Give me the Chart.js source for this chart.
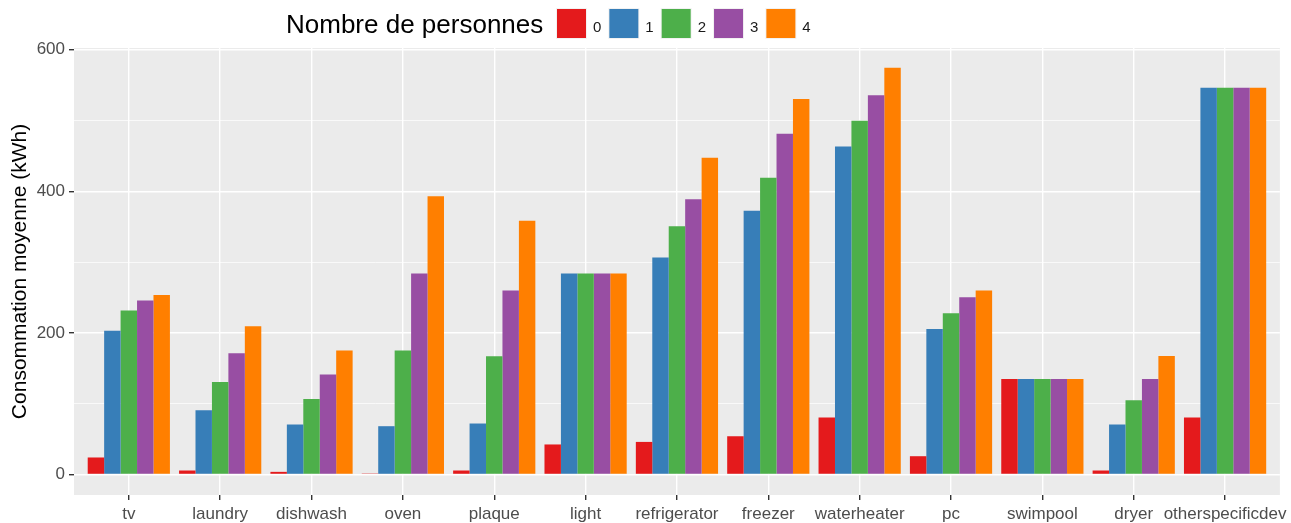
<!DOCTYPE html>
<html><head><meta charset="utf-8">
<script src="https://cdn.jsdelivr.net/npm/chart.js@4/dist/chart.umd.min.js"></script>
<style>html,body{margin:0;padding:0;background:#fff;overflow:hidden}</style>
</head><body>
<canvas id="c" width="1291" height="523"></canvas>
<script>
const categories = ['tv','laundry','dishwash','oven','plaque','light','refrigerator','freezer','waterheater','pc','swimpool','dryer','otherspecificdev'];
const seriesNames = ['0','1','2','3','4'];
const persons0 = [24, 5.6, 3.7, 1.4, 5.6, 42.4, 46, 54, 80.5, 25.8, 135, 5.6, 80.5];
const persons1 = [203, 90.8, 70.6, 68.2, 72, 283.8, 306.4, 372.7, 463.5, 205.6, 135, 70.6, 546.4];
const persons2 = [231.5, 130.7, 106.7, 175, 167, 283.8, 350.6, 419.3, 499.8, 227.7, 135, 104.9, 546.4];
const persons3 = [245.7, 171.3, 141.2, 283.8, 259.8, 283.8, 388.7, 481.4, 535.9, 250.3, 135, 135, 546.4];
const persons4 = [253.6, 209.4, 175, 393, 358.6, 283.8, 447.5, 530.3, 574.6, 259.8, 135, 167.3, 546.4];
const yTicks = [0, 200, 400, 600];
const legendTitle = 'Nombre de personnes';
const yTitle = 'Consommation moyenne (kWh)';

const colors = ['#E41A1C','#377EB8','#4DAF4A','#984EA3','#FF7F00'];
const FONT = '"Liberation Sans", Arial, sans-serif';
const seriesValues = [persons0, persons1, persons2, persons3, persons4];

const panelBg = {
  id: 'panelBg',
  beforeDraw(chart) {
    const a = chart.chartArea, ctx = chart.ctx;
    ctx.save();
    ctx.fillStyle = '#EBEBEB';
    ctx.fillRect(a.left, a.top, a.right - a.left, a.bottom - a.top);
    ctx.restore();
  }
};

const ggLegend = {
  id: 'ggLegend',
  afterDraw(chart) {
    const ctx = chart.ctx;
    ctx.save();
    ctx.textBaseline = 'alphabetic';
    ctx.textAlign = 'left';
    ctx.font = '26px ' + FONT;
    ctx.fillStyle = '#000';
    ctx.fillText(legendTitle, 286, 33);
    let x = 557;
    ctx.font = '15px ' + FONT;
    chart.data.datasets.forEach(ds => {
      ctx.fillStyle = '#F2F2F2';
      ctx.fillRect(x - 1, 8, 31, 31);
      ctx.fillStyle = ds.backgroundColor;
      ctx.fillRect(x, 9, 29, 29);
      x += 29 + 7;
      ctx.fillStyle = '#1A1A1A';
      ctx.fillText(ds.label, x, 32);
      x += ctx.measureText(ds.label).width + 8;
    });
    ctx.restore();
  }
};

const isMajor = v => yTicks.includes(v);

new Chart(document.getElementById('c'), {
  type: 'bar',
  data: {
    labels: categories.map((_, i) => i),
    datasets: seriesNames.map((n, i) => ({
      label: n,
      data: seriesValues[i],
      backgroundColor: colors[i],
      borderWidth: 0,
      categoryPercentage: 0.9,
      barPercentage: 1.0
    }))
  },
  options: {
    responsive: false,
    animation: false,
    layout: { padding: { top: 48, right: 11, left: 0, bottom: 0 } },
    plugins: { legend: { display: false }, tooltip: { enabled: false } },
    scales: {
      x: {
        type: 'linear',
        min: -0.6, max: 12.6,
        offset: false,
        border: { display: false },
        grid: { color: '#FFFFFF', lineWidth: 1.4, offset: false, tickLength: 5, tickColor: '#333333', drawOnChartArea: true },
        ticks: {
          stepSize: 1, includeBounds: false, autoSkip: false, maxRotation: 0,
          padding: 4, color: '#4D4D4D', font: { family: FONT, size: 17 },
          callback: v => categories[v] ?? ''
        },
        afterFit: s => { s.height = 28; }
      },
      y: {
        type: 'linear',
        min: -29, max: 602.5,
        border: { display: false },
        grid: {
          color: '#FFFFFF',
          lineWidth: c => (c.tick && isMajor(c.tick.value)) ? 1.4 : 0.7,
          tickLength: 5,
          tickColor: c => (c.tick && isMajor(c.tick.value)) ? '#333333' : 'rgba(0,0,0,0)'
        },
        ticks: {
          stepSize: 100, includeBounds: false, padding: 4,
          color: '#4D4D4D', font: { family: FONT, size: 17 },
          callback: v => isMajor(v) ? String(v) : ''
        },
        title: {
          display: true, text: yTitle, color: '#000000',
          font: { family: FONT, size: 21 }, padding: { top: 8, bottom: 0 }
        },
        afterFit: s => { s.width = 74; }
      }
    }
  },
  plugins: [panelBg, ggLegend]
});
</script>
</body></html>
